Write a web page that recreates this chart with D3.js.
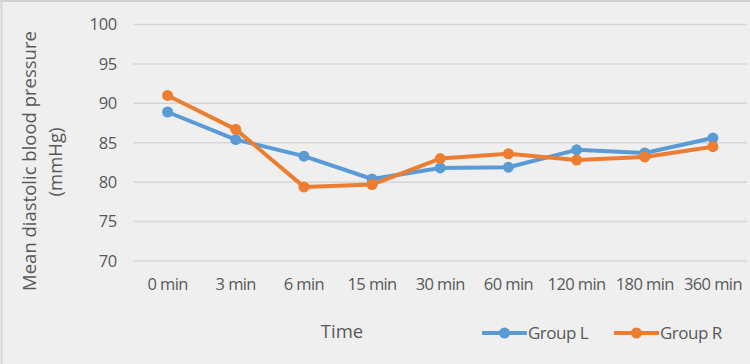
<!DOCTYPE html>
<html>
<head>
<meta charset="utf-8">
<script src="https://cdn.jsdelivr.net/npm/d3@7"></script>
<style>
  body { margin: 0; background: #efefef; }
  svg { display: block; }
</style>
</head>
<body>
<svg width="750" height="364"></svg>
<script>
"use strict";

// 데이터
const times = ["0 min", "3 min", "6 min", "15 min", "30 min", "60 min", "120 min", "180 min", "360 min"];
const groupL = [88.9, 85.4, 83.3, 80.4, 81.8, 81.9, 84.1, 83.7, 85.6];
const groupR = [91.0, 86.7, 79.4, 79.7, 83.0, 83.6, 82.8, 83.2, 84.5];
const yTicks = [70, 75, 80, 85, 90, 95, 100];

const seriesList = [
  { name: "Group L", values: groupL, color: "#5b9bd5" },
  { name: "Group R", values: groupR, color: "#ed7d31" }
];

const font = "'Open Sans', sans-serif";
const textColor = "#595959";
const svg = d3.select("svg");

// 배경 + 테두리
svg.append("rect").attr("width", 750).attr("height", 364).attr("fill", "#efefef");
svg.append("line").attr("x1", 0).attr("x2", 750).attr("y1", 1).attr("y2", 1)
  .attr("stroke", "#d0d0d0").attr("stroke-width", 2);
svg.append("line").attr("x1", 1.5).attr("x2", 1.5).attr("y1", 0).attr("y2", 364)
  .attr("stroke", "#d8d8d8").attr("stroke-width", 2);

const x = d3.scaleBand().domain(times).range([133.5, 747]);
const y = d3.scaleLinear().domain([70, 100]).range([261, 24.5]);

// 격자선
svg.append("g")
  .selectAll("line")
  .data(yTicks)
  .join("line")
  .attr("x1", 133.5).attr("x2", 747)
  .attr("y1", (d) => y(d)).attr("y2", (d) => y(d))
  .attr("stroke", "#d6d6d6").attr("stroke-width", 1.5);

// y축 눈금 라벨
const yAxis = svg.append("g")
  .attr("transform", "translate(117,0)")
  .call(d3.axisLeft(y).tickValues(yTicks).tickSize(0).tickPadding(0));
yAxis.select(".domain").remove();
yAxis.selectAll("text")
  .attr("font-family", font).attr("font-size", 16.5).attr("fill", textColor)
  .attr("letter-spacing", -0.3);

// x축 눈금 라벨
const xAxis = svg.append("g")
  .attr("transform", "translate(0,278)")
  .call(d3.axisBottom(x).tickSize(0).tickPadding(0));
xAxis.select(".domain").remove();
xAxis.selectAll("text")
  .attr("font-family", font).attr("font-size", 16.5).attr("fill", textColor)
  .attr("letter-spacing", -0.6);

// 축 제목
svg.append("text")
  .attr("transform", "translate(36,161) rotate(-90)")
  .attr("text-anchor", "middle")
  .attr("font-family", font).attr("font-size", 18.5).attr("fill", textColor)
  .text("Mean diastolic blood pressure");
svg.append("text")
  .attr("transform", "translate(62,162) rotate(-90)")
  .attr("text-anchor", "middle")
  .attr("font-family", font).attr("font-size", 18.5).attr("fill", textColor)
  .text("(mmHg)");
svg.append("text")
  .attr("x", 342).attr("y", 338)
  .attr("text-anchor", "middle")
  .attr("font-family", font).attr("font-size", 18.5).attr("fill", textColor)
  .text("Time");

// 선 + 마커
const line = d3.line()
  .x((d, i) => x(times[i]) + x.bandwidth() / 2)
  .y((d) => y(d));

seriesList.forEach((s) => {
  svg.append("path")
    .datum(s.values)
    .attr("d", line)
    .attr("fill", "none")
    .attr("stroke", s.color)
    .attr("stroke-width", 4)
    .attr("stroke-linejoin", "round");
  svg.append("g")
    .selectAll("circle")
    .data(s.values)
    .join("circle")
    .attr("cx", (d, i) => x(times[i]) + x.bandwidth() / 2)
    .attr("cy", (d) => y(d))
    .attr("r", 5.5)
    .attr("fill", s.color);
});

// 범례
const legendX = [482, 614];
const legend = svg.append("g")
  .selectAll("g")
  .data(seriesList)
  .join("g")
  .attr("transform", (d, i) => `translate(${legendX[i]},333)`);
legend.append("line")
  .attr("x1", 0).attr("x2", 45)
  .attr("stroke", (d) => d.color).attr("stroke-width", 4);
legend.append("circle")
  .attr("cx", 22.5).attr("r", 5.5)
  .attr("fill", (d) => d.color);
legend.append("text")
  .attr("x", 46).attr("y", 6)
  .attr("font-family", font).attr("font-size", 17).attr("fill", textColor)
  .attr("letter-spacing", -0.5)
  .text((d) => d.name);
</script>
</body>
</html>
